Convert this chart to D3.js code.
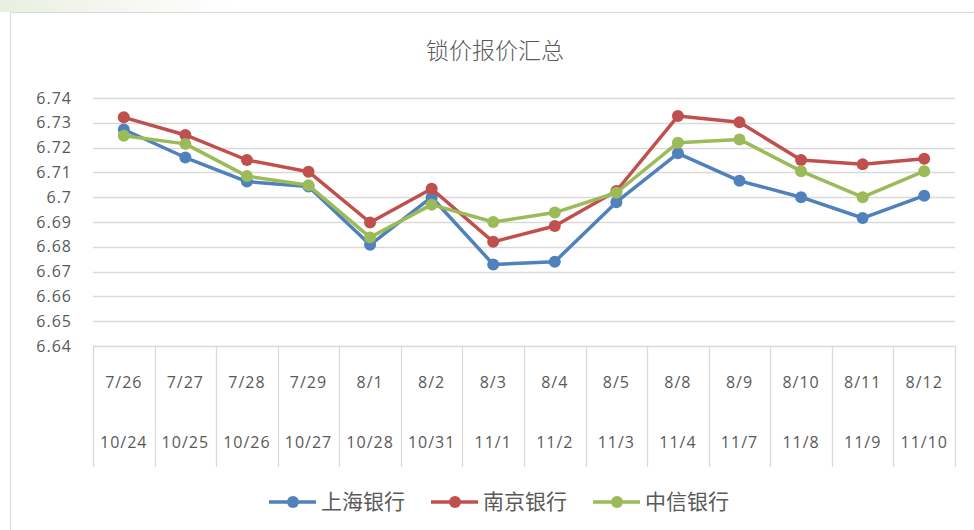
<!DOCTYPE html>
<html>
<head>
<meta charset="utf-8">
<script src="https://cdn.jsdelivr.net/npm/d3@7"></script>
<style>
  body { margin: 0; background: #fff; }
  svg { display: block; font-family: "Open Sans", "Noto Sans CJK SC", sans-serif; }
  .tick-label { fill: #595959; font-size: 16px; letter-spacing: 1px; }
</style>
</head>
<body>
<div id="chart"></div>
<script>
// data
const datesTop = ["7/26", "7/27", "7/28", "7/29", "8/1", "8/2", "8/3", "8/4", "8/5", "8/8", "8/9", "8/10", "8/11", "8/12"];
const datesBottom = ["10/24", "10/25", "10/26", "10/27", "10/28", "10/31", "11/1", "11/2", "11/3", "11/4", "11/7", "11/8", "11/9", "11/10"];
const shanghai = [6.7273, 6.7160, 6.7063, 6.7043, 6.6808, 6.7000, 6.6729, 6.6740, 6.6980, 6.7177, 6.7066, 6.7000, 6.6916, 6.7006];
const nanjing = [6.7322, 6.7251, 6.7150, 6.7103, 6.6898, 6.7034, 6.6820, 6.6884, 6.7025, 6.7327, 6.7302, 6.7150, 6.7133, 6.7155];
const zhongxin = [6.7248, 6.7215, 6.7085, 6.7048, 6.6838, 6.6970, 6.6900, 6.6938, 6.7018, 6.7220, 6.7233, 6.7105, 6.7000, 6.7105];
const yTicks = [6.64, 6.65, 6.66, 6.67, 6.68, 6.69, 6.70, 6.71, 6.72, 6.73, 6.74];
const seriesNames = ["上海银行", "南京银行", "中信银行"];
const seriesColors = ["#4f81bd", "#c0504d", "#9bbb59"];
const title = "锁价报价汇总";

const W = 974, H = 530;
const margin = {top: 98, left: 93, right: 19, bottom: 184};
const width = W - margin.left - margin.right,
      height = H - margin.top - margin.bottom;

const svg = d3.select("#chart").append("svg")
    .attr("width", W)
    .attr("height", H);

// pale decoration at the top-left, outside the chart frame
const grad = svg.append("defs").append("linearGradient")
    .attr("id", "deco").attr("x1", 0).attr("x2", 1);
grad.append("stop").attr("offset", "0%").attr("stop-color", "#e9efe0");
grad.append("stop").attr("offset", "100%").attr("stop-color", "#ffffff");
svg.append("rect").attr("x", 0).attr("y", 0).attr("width", 230).attr("height", 12).attr("fill", "url(#deco)");

// chart frame (left and top edges visible)
svg.append("path")
    .attr("d", "M10.5," + H + "V12.5H" + W)
    .attr("fill", "none")
    .attr("stroke", "#d9d9d9");

svg.append("text")
    .attr("x", 495)
    .attr("y", 59)
    .attr("text-anchor", "middle")
    .attr("fill", "#595959")
    .style("font-size", "23px")
    .style("font-family", "'Noto Sans CJK SC', sans-serif")
    .style("font-weight", 300)
    .text(title);

const g = svg.append("g")
    .attr("transform", "translate(" + margin.left + "," + margin.top + ")");

const x = d3.scaleBand()
    .domain(d3.range(datesTop.length))
    .range([0, width]);

const y = d3.scaleLinear()
    .domain([6.64, 6.74])
    .range([height, 0]);

// horizontal grid
g.append("g")
    .selectAll("line")
    .data(yTicks)
    .join("line")
    .attr("x1", 0)
    .attr("x2", width)
    .attr("y1", d => Math.round(y(d)) + 0.5)
    .attr("y2", d => Math.round(y(d)) + 0.5)
    .attr("stroke", "#d9d9d9")
    .attr("stroke-width", 1.3);

// y labels
g.append("g")
    .selectAll("text")
    .data(yTicks)
    .join("text")
    .attr("class", "tick-label")
    .attr("x", -21)
    .attr("y", d => y(d))
    .attr("dy", "0.35em")
    .attr("text-anchor", "end")
    .text(d => d3.format("~g")(+d.toFixed(2)));

// category separators below the axis
const bounds = d3.range(datesTop.length + 1).map(i => i === datesTop.length ? width : x(i));
g.append("g")
    .selectAll("line")
    .data(bounds)
    .join("line")
    .attr("x1", d => Math.round(d) + 0.5)
    .attr("x2", d => Math.round(d) + 0.5)
    .attr("y1", height)
    .attr("y2", height + 121)
    .attr("stroke", "#d9d9d9")
    .attr("stroke-width", 1.3);

// two-row category labels
const cats = g.append("g")
    .selectAll("g")
    .data(d3.range(datesTop.length))
    .join("g")
    .attr("transform", i => "translate(" + (x(i) + x.bandwidth() / 2) + "," + height + ")");
cats.append("text")
    .attr("class", "tick-label")
    .attr("y", 36)
    .attr("dy", "0.35em")
    .attr("text-anchor", "middle")
    .text(i => datesTop[i]);
cats.append("text")
    .attr("class", "tick-label")
    .attr("y", 96)
    .attr("dy", "0.35em")
    .attr("text-anchor", "middle")
    .text(i => datesBottom[i]);

// series
const series = [shanghai, nanjing, zhongxin];
const line = d3.line()
    .x((d, i) => x(i) + x.bandwidth() / 2)
    .y(d => y(d));

series.forEach((values, k) => {
    g.append("path")
        .datum(values)
        .attr("fill", "none")
        .attr("stroke", seriesColors[k])
        .attr("stroke-width", 3.5)
        .attr("stroke-linejoin", "round")
        .attr("d", line);
    g.append("g")
        .selectAll("circle")
        .data(values)
        .join("circle")
        .attr("cx", (d, i) => x(i) + x.bandwidth() / 2)
        .attr("cy", d => y(d))
        .attr("r", 6)
        .attr("fill", seriesColors[k]);
});

// legend
const legendX = [269, 431, 593];
const legend = svg.append("g")
    .selectAll("g")
    .data(seriesNames)
    .join("g")
    .attr("transform", (d, i) => "translate(" + legendX[i] + ",502)");
legend.append("line")
    .attr("x1", 0).attr("x2", 47)
    .attr("stroke", (d, i) => seriesColors[i])
    .attr("stroke-width", 3.5);
legend.append("circle")
    .attr("cx", 24)
    .attr("r", 6)
    .attr("fill", (d, i) => seriesColors[i]);
legend.append("text")
    .attr("x", 52)
    .attr("dy", "0.35em")
    .attr("fill", "#595959")
    .style("font-size", "21px")
    .style("font-family", "'Noto Sans CJK SC', sans-serif")
    .text(d => d);
</script>
</body>
</html>
